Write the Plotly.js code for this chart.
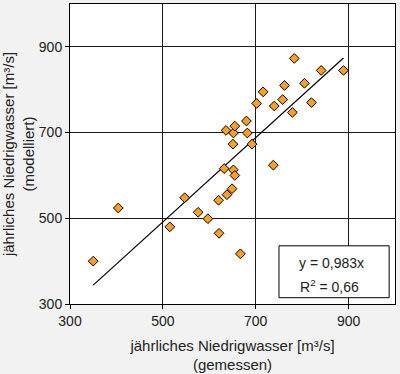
<!DOCTYPE html>
<html>
<head>
<meta charset="utf-8">
<script src="https://cdn.plot.ly/plotly-3.0.1.min.js"></script>
<style>html,body{margin:0;padding:0;background:#f2f2f2;}#chart{width:400px;height:374px;}</style>
</head>
<body>
<div id="chart"></div>
<script>
// Measured (gemessen) vs modelled (modelliert) annual low water [m³/s]
const gemessen = [350, 404, 515, 547, 576, 597, 620, 621, 632, 636, 638, 649, 652, 651, 652, 655, 655, 667, 680, 682, 692, 702, 716, 738, 740, 758, 762, 779, 783, 805, 820, 841, 889];
const modelliert = [400, 524, 480, 548, 514, 499, 542, 465, 616, 705, 555, 569, 699, 673, 613, 600, 715, 417, 727, 699, 673, 768, 795, 624, 762, 777, 810, 747, 873, 815, 770, 845, 845];
const slope = 0.983;
const r2Text = "0,66";
const slopeText = "0,983";
const tickVals = [300, 500, 700, 900];
const tickText = ["300", "500", "700", "900"];

const xMin = Math.min(...gemessen), xMax = Math.max(...gemessen);
const trendX = [xMin, xMax];
const trendY = trendX.map(v => slope * v);

const font = {family: "Arial, 'Liberation Sans', sans-serif", color: "#222"};

const traces = [
  {x: trendX, y: trendY, mode: "lines", line: {color: "#000", width: 1.2}, hoverinfo: "skip"},
  {x: gemessen, y: modelliert, mode: "markers",
   marker: {symbol: "diamond", size: 7.5, color: "#ff9e1f", line: {color: "#000", width: 1}}}
];

const axisCommon = {
  range: [300, 1000], tickvals: tickVals, ticktext: tickText,
  showgrid: true, gridcolor: "#1a1a1a", gridwidth: 1,
  showline: true, linecolor: "#000", linewidth: 1, mirror: true,
  ticks: "outside", ticklen: 4, tickcolor: "#000", tickwidth: 1,
  zeroline: false, tickfont: {...font, size: 14}, fixedrange: true
};

const layout = {
  width: 400, height: 374,
  margin: {l: 70, r: 5, t: 4, b: 70},
  paper_bgcolor: "#f2f2f2", plot_bgcolor: "#ffffff",
  showlegend: false, font: font,
  xaxis: {...axisCommon, title: {text: "jährliches Niedrigwasser [m³/s]<br>(gemessen)", font: {...font, size: 15}, standoff: 12}},
  yaxis: {...axisCommon, title: {text: "jährliches Niedrigwasser [m³/s]<br>(modelliert)", font: {...font, size: 15}, standoff: 6}},
  shapes: [
    {type: "rect", xref: "paper", yref: "paper", x0: 0.643, x1: 0.982, y0: 0.021, y1: 0.194,
     line: {color: "#000", width: 1}, fillcolor: "#ffffff", layer: "above"}
  ],
  annotations: [
    {xref: "paper", yref: "paper", x: 0.806, y: 0.137, text: "y = " + slopeText + "x", showarrow: false,
     font: {...font, size: 14}, xanchor: "center", yanchor: "middle"},
    {xref: "paper", yref: "paper", x: 0.797, y: 0.06, text: "R<sup>2</sup> = " + r2Text, showarrow: false,
     font: {...font, size: 14}, xanchor: "center", yanchor: "middle"}
  ]
};

Plotly.newPlot("chart", traces, layout, {displayModeBar: false, staticPlot: true});
</script>
</body>
</html>
